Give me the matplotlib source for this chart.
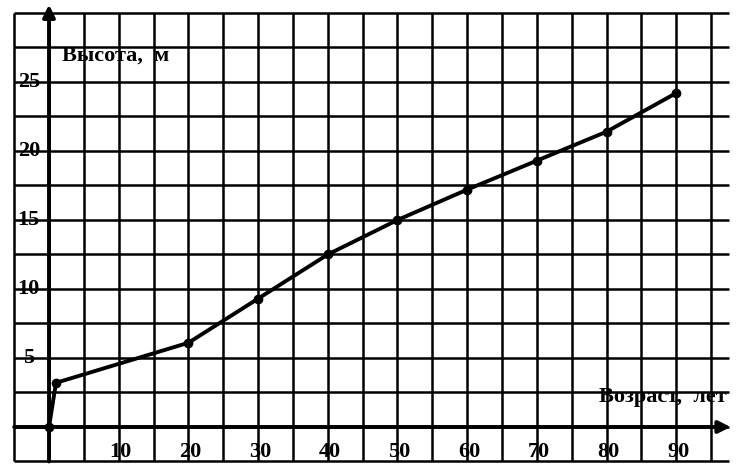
import numpy as np
import matplotlib.pyplot as plt

plt.rcParams['font.family'] = ['Liberation Serif', 'DejaVu Serif']

# данные: возраст (лет) и высота (м)
age = [0, 1, 20, 30, 40, 50, 60, 70, 80, 90]
height = [0, 3.2, 6.1, 9.3, 12.5, 15.0, 17.2, 19.3, 21.4, 24.2]
x_ticks = [10, 20, 30, 40, 50, 60, 70, 80, 90]
y_ticks = [5, 10, 15, 20, 25]

fig = plt.figure(figsize=(7.46, 4.75), dpi=100)
ax = fig.add_axes([0, 0, 1, 1])
ax.set_xlim(-7.03, 100.0)
ax.set_ylim(-3.48, 30.94)
ax.axis('off')

# сетка
gx = np.arange(-5, 96, 5)
gy = np.arange(-2.5, 30.1, 2.5)
ax.vlines(gx, -2.5, 30, color='black', lw=1.8, zorder=1)
ax.hlines(gy, -5, 97.5, color='black', lw=1.8, zorder=1)

# оси со стрелками
ax.annotate('', xy=(97.8, 0), xytext=(-5, 0),
            arrowprops=dict(arrowstyle='-|>', lw=2.8, color='black',
                            mutation_scale=18, shrinkA=0, shrinkB=0), zorder=3)
ax.annotate('', xy=(0, 30.6), xytext=(0, -2.5),
            arrowprops=dict(arrowstyle='-|>', lw=2.8, color='black',
                            mutation_scale=18, shrinkA=0, shrinkB=0), zorder=3)

# подписи делений
for v in x_ticks:
    ax.text(v + 0.3, -1.8, str(v), ha='center', va='center', fontsize=16,
            fontweight='bold', zorder=4)
for v in y_ticks:
    ax.text(-2.9, v, str(v), ha='center', va='center', fontsize=16,
            fontweight='bold', zorder=4)

ax.text(1.9, 26.9, 'Высота,  м', ha='left', va='center', fontsize=16,
        fontweight='bold', zorder=4)
ax.text(97.2, 2.2, 'Возраст,  лет', ha='right', va='center', fontsize=16,
        fontweight='bold', zorder=4)

# кривая
ax.plot(age, height, color='black', lw=2.8, marker='o', markersize=6, zorder=5)

fig.savefig('out.png', dpi=100)
